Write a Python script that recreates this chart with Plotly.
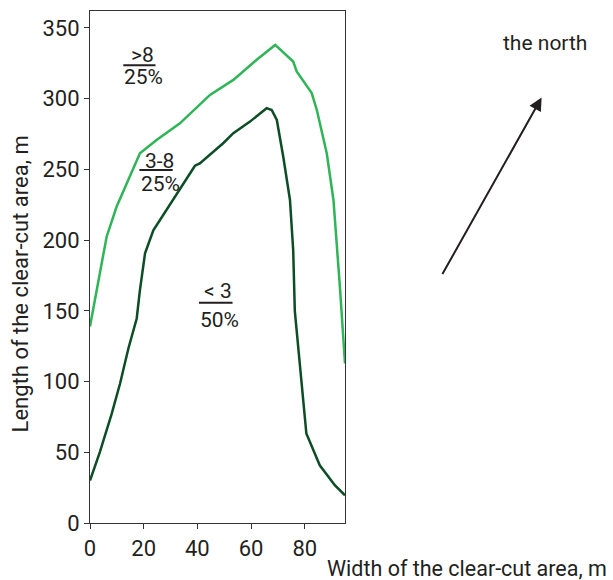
import plotly.graph_objects as go

# Boundary ">8 / 3-8" (light green)
x_high = [0, 1.9, 6.2, 9.9, 14.3, 18.6, 24.8, 33.5, 44.7, 53.4, 62.1, 69.0, 75.7, 77.0, 82.6, 84.5, 88.2, 90.7, 93.1, 95.0]
y_high = [139, 157.6, 202.4, 223.6, 242.5, 261.4, 270.8, 282.6, 302.7, 313.3, 327.5, 338.0, 326.3, 319.2, 304.0, 292.0, 261.4, 228.4, 167.0, 112.8]

# Boundary "3-8 / <3" (dark green)
x_low = [0, 3.7, 8.1, 11.2, 14.3, 17.4, 18.6, 20.5, 23.6, 28.5, 33.5, 39.1, 40.9, 49.6, 53.4, 59.6, 65.8, 67.7, 69.6, 72.0, 74.5, 75.7, 76.3, 78.8, 80.6, 85.6, 91.2, 95.0]
y_low = [30, 50.3, 77.3, 98.6, 123.4, 144.6, 164.7, 190.6, 207.0, 221.3, 236.6, 252.6, 254.3, 268.5, 275.6, 283.8, 293.3, 292.0, 285.0, 259.0, 228.4, 193.0, 150.0, 101.0, 63.3, 40.8, 26.7, 19.6]

x_ticks = [0, 20, 40, 60, 80]
y_ticks = [0, 50, 100, 150, 200, 250, 300, 350]

# zone labels: (numerator, denominator, x, y_num, y_den, line_x0, line_x1, line_y)
zones = [
    (">8", "25%", 19.7, 331, 315, 12.4, 24.4, 323.7),
    ("3-8", "25%", 25.8, 256, 240, 18.4, 30.8, 249.6),
    ("< 3", "50%", 47.8, 164.2, 143.5, 40.6, 53.1, 155.7),
]

TXT = "#231f20"
FONT = "Roboto"

fig = go.Figure()
fig.add_trace(go.Scatter(x=x_high, y=y_high, mode="lines",
                         line=dict(color="#2fb457", width=2.5), showlegend=False))
fig.add_trace(go.Scatter(x=x_low, y=y_low, mode="lines",
                         line=dict(color="#0c4d25", width=2.5), showlegend=False))

for num, den, xc, yn, yd, lx0, lx1, ly in zones:
    fig.add_annotation(x=xc, y=yn, text=num, showarrow=False, xref="x", yref="y",
                       font=dict(family=FONT, size=21, color=TXT))
    fig.add_annotation(x=xc + 0.3, y=yd, text=den, showarrow=False, xref="x", yref="y",
                       font=dict(family=FONT, size=21, color=TXT))
    fig.add_shape(type="line", x0=lx0, x1=lx1, y0=ly, y1=ly, xref="x", yref="y",
                  line=dict(color=TXT, width=2))

# north arrow
fig.add_annotation(x=1.771, y=0.831, ax=-100, ay=178, xref="paper", yref="paper",
                   axref="pixel", ayref="pixel", text="", showarrow=True,
                   arrowhead=2, arrowsize=1.3, arrowwidth=2, arrowcolor=TXT)
fig.add_annotation(x=1.784, y=0.9375, xref="paper", yref="paper", text="the north",
                   showarrow=False, xanchor="center", yanchor="middle",
                   font=dict(family=FONT, size=21, color=TXT))

# axis titles
fig.add_annotation(x=2.035, y=-0.088, xref="paper", yref="paper",
                   text="Width of the clear-cut area, m", showarrow=False,
                   xanchor="right", yanchor="middle",
                   font=dict(family=FONT, size=21.5, color=TXT))
fig.add_annotation(x=-0.2745, y=0.466, xref="paper", yref="paper",
                   text="Length of the clear-cut area, m", showarrow=False,
                   textangle=-90, xanchor="center", yanchor="middle",
                   font=dict(family=FONT, size=22, color=TXT))

fig.update_layout(
    width=613, height=580,
    margin=dict(l=90, r=268, t=11, b=57),
    paper_bgcolor="white", plot_bgcolor="white",
    font=dict(family=FONT, color=TXT),
    xaxis=dict(range=[0, 95], tickvals=x_ticks, ticks="outside", ticklen=5,
               tickcolor="#333", showgrid=False, zeroline=False, showline=True,
               linecolor="#333", linewidth=1.2, mirror=True, automargin=False,
               tickfont=dict(family=FONT, size=22, color=TXT)),
    yaxis=dict(range=[0, 362], tickvals=y_ticks, ticks="outside", ticklen=5,
               tickcolor="#333", showgrid=False, zeroline=False, showline=True,
               linecolor="#333", linewidth=1.2, mirror=True, automargin=False,
               tickfont=dict(family=FONT, size=22, color=TXT)),
)

fig.write_html("out.html", config={"displayModeBar": False},
               post_script="document.body.style.margin='0';document.body.style.overflow='hidden';")
